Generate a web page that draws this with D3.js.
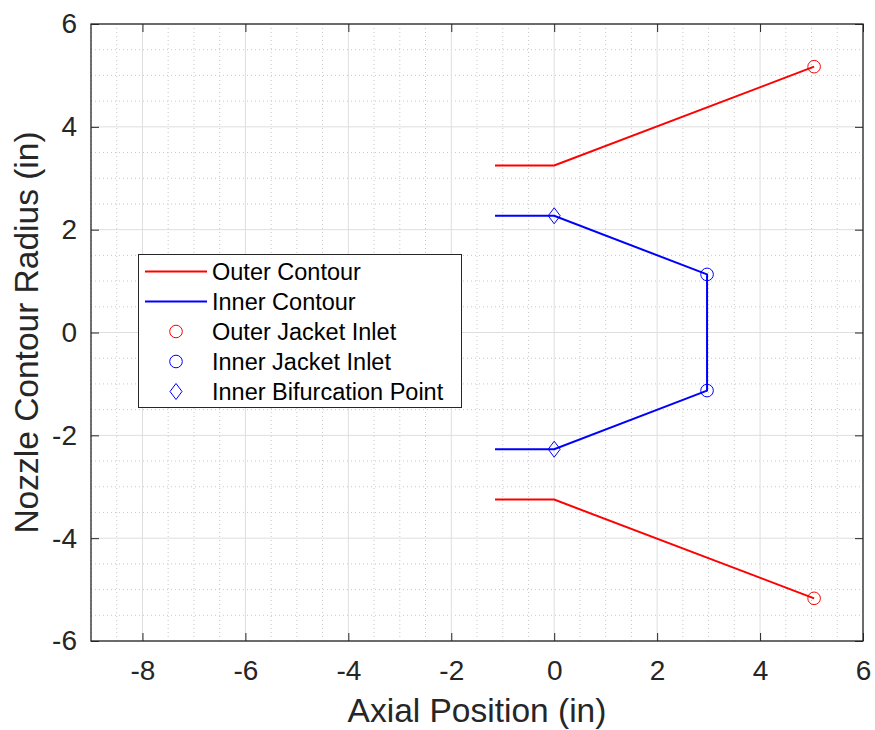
<!DOCTYPE html>
<html><head><meta charset="utf-8">
<script src="https://cdn.jsdelivr.net/npm/d3@7"></script>
<style>body{margin:0;background:#fff;} text{font-family:"Liberation Sans",Arial,sans-serif;fill:#262626;}</style>
</head><body>
<svg id="c" width="875" height="730"></svg>
<script>
// Data
const outerTopX = [-1.15, 0, 5.05];
const outerTopY = [3.25, 3.25, 5.17];
const outerBotX = [-1.15, 0, 5.05];
const outerBotY = [-3.25, -3.25, -5.17];
const innerX = [-1.15, 0, 2.97, 2.97, 0, -1.15];
const innerY = [2.27, 2.27, 1.13, -1.13, -2.27, -2.27];
const outerJacketX = [5.05, 5.05];
const outerJacketY = [5.17, -5.17];
const innerJacketX = [2.97, 2.97];
const innerJacketY = [1.13, -1.13];
const bifurcX = [0, 0];
const bifurcY = [2.27, -2.27];
const xTicks = [-8, -6, -4, -2, 0, 2, 4, 6];
const yTicks = [-6, -4, -2, 0, 2, 4, 6];
const legendLabels = ["Outer Contour", "Inner Contour", "Outer Jacket Inlet", "Inner Jacket Inlet", "Inner Bifurcation Point"];

const L = 91, R = 863, T = 24, B = 641;
const svg = d3.select("#c");
const x = d3.scaleLinear().domain([-9, 6]).range([L, R]);
const y = d3.scaleLinear().domain([-6, 6]).range([B, T]);
const fmt = d => String(d);

// minor grid
const minorX = d3.range(-9, 6.01, 0.5).filter(v => Math.abs(v % 2) > 1e-6);
const minorY = d3.range(-6, 6.01, 0.5).filter(v => Math.abs(v % 2) > 1e-6);
const g = svg.append("g");
g.selectAll(".mx").data(minorX).join("line")
  .attr("x1", d => x(d)).attr("x2", d => x(d)).attr("y1", T).attr("y2", B)
  .attr("stroke", "#c8c8c8").attr("stroke-width", 1).attr("stroke-dasharray", "1,3");
g.selectAll(".my").data(minorY).join("line")
  .attr("y1", d => y(d)).attr("y2", d => y(d)).attr("x1", L).attr("x2", R)
  .attr("stroke", "#c8c8c8").attr("stroke-width", 1).attr("stroke-dasharray", "1,3");
// major grid
g.selectAll(".gx").data(xTicks).join("line")
  .attr("x1", d => x(d)).attr("x2", d => x(d)).attr("y1", T).attr("y2", B)
  .attr("stroke", "#dedede").attr("stroke-width", 1);
g.selectAll(".gy").data(yTicks).join("line")
  .attr("y1", d => y(d)).attr("y2", d => y(d)).attr("x1", L).attr("x2", R)
  .attr("stroke", "#dedede").attr("stroke-width", 1);

// axes
const tickLen = 8;
const ax = svg.append("g").attr("transform", `translate(0,${B})`)
  .call(d3.axisBottom(x).tickValues(xTicks).tickSizeInner(-tickLen).tickSizeOuter(0).tickPadding(19).tickFormat(fmt));
const axTop = svg.append("g").attr("transform", `translate(0,${T})`)
  .call(d3.axisTop(x).tickValues(xTicks).tickSizeInner(-tickLen).tickSizeOuter(0).tickFormat(""));
const ay = svg.append("g").attr("transform", `translate(${L},0)`)
  .call(d3.axisLeft(y).tickValues(yTicks).tickSizeInner(-tickLen).tickSizeOuter(0).tickPadding(14).tickFormat(fmt));
const ayR = svg.append("g").attr("transform", `translate(${R},0)`)
  .call(d3.axisRight(y).tickValues(yTicks).tickSizeInner(-tickLen).tickSizeOuter(0).tickFormat(""));
[ax, axTop, ay, ayR].forEach(a => {
  a.select(".domain").remove();
  a.selectAll("line").attr("stroke", "#262626").attr("stroke-width", 1);
  a.selectAll("text").style("font-size", "28px").attr("fill", "#262626").style("font-family", '"Liberation Sans",Arial,sans-serif');
});
svg.append("rect").attr("x", L).attr("y", T).attr("width", R - L).attr("height", B - T)
  .attr("fill", "none").attr("stroke", "#262626").attr("stroke-width", 1.3);

// axis labels
svg.append("text").attr("x", (L + R) / 2).attr("y", 722).attr("text-anchor", "middle")
  .style("font-size", "33.5px").text("Axial Position (in)");
svg.append("text").attr("transform", `translate(38,${(T + B) / 2}) rotate(-90)`).attr("text-anchor", "middle")
  .style("font-size", "33.5px").text("Nozzle Contour Radius (in)");

// lines
const line = (xs, ys) => d3.line()(xs.map((v, i) => [x(v), y(ys[i])]));
svg.append("path").attr("d", line(outerTopX, outerTopY)).attr("fill", "none").attr("stroke", "#ff0000").attr("stroke-width", 2);
svg.append("path").attr("d", line(outerBotX, outerBotY)).attr("fill", "none").attr("stroke", "#ff0000").attr("stroke-width", 2);
svg.append("path").attr("d", line(innerX, innerY)).attr("fill", "none").attr("stroke", "#0000ff").attr("stroke-width", 2);

// markers
const circ = (xs, ys, col) => svg.append("g").selectAll("circle").data(xs.map((v, i) => [v, ys[i]])).join("circle")
  .attr("cx", d => x(d[0])).attr("cy", d => y(d[1])).attr("r", 6.3)
  .attr("fill", "none").attr("stroke", col).attr("stroke-width", 1);
circ(outerJacketX, outerJacketY, "#ff0000");
circ(innerJacketX, innerJacketY, "#0000ff");
const diamond = (cx, cy) => `M${cx},${cy - 8}L${cx + 6},${cy}L${cx},${cy + 8}L${cx - 6},${cy}Z`;
svg.append("g").selectAll("path").data(bifurcX.map((v, i) => [v, bifurcY[i]])).join("path")
  .attr("d", d => diamond(x(d[0]), y(d[1])))
  .attr("fill", "none").attr("stroke", "#0000ff").attr("stroke-width", 1);

// legend
const lg = svg.append("g");
lg.append("rect").attr("x", 138.5).attr("y", 254.5).attr("width", 323).attr("height", 153)
  .attr("fill", "#fff").attr("stroke", "#262626").attr("stroke-width", 1);
const rowY = i => 271.5 + i * 30;
const styles = [
  {type: "line", col: "#ff0000"}, {type: "line", col: "#0000ff"},
  {type: "circle", col: "#ff0000"}, {type: "circle", col: "#0000ff"}, {type: "diamond", col: "#0000ff"}];
legendLabels.forEach((lab, i) => {
  const s = styles[i], cy = rowY(i);
  if (s.type === "line") lg.append("line").attr("x1", 145).attr("x2", 207).attr("y1", cy).attr("y2", cy).attr("stroke", s.col).attr("stroke-width", 2);
  else if (s.type === "circle") lg.append("circle").attr("cx", 176).attr("cy", cy).attr("r", 6.3).attr("fill", "none").attr("stroke", s.col).attr("stroke-width", 1);
  else lg.append("path").attr("d", diamond(176, cy)).attr("fill", "none").attr("stroke", s.col).attr("stroke-width", 1);
  lg.append("text").attr("x", 212).attr("y", cy).attr("dy", "0.35em").style("font-size", "23.5px").style("fill", "#000").text(lab);
});
</script>
</body></html>
